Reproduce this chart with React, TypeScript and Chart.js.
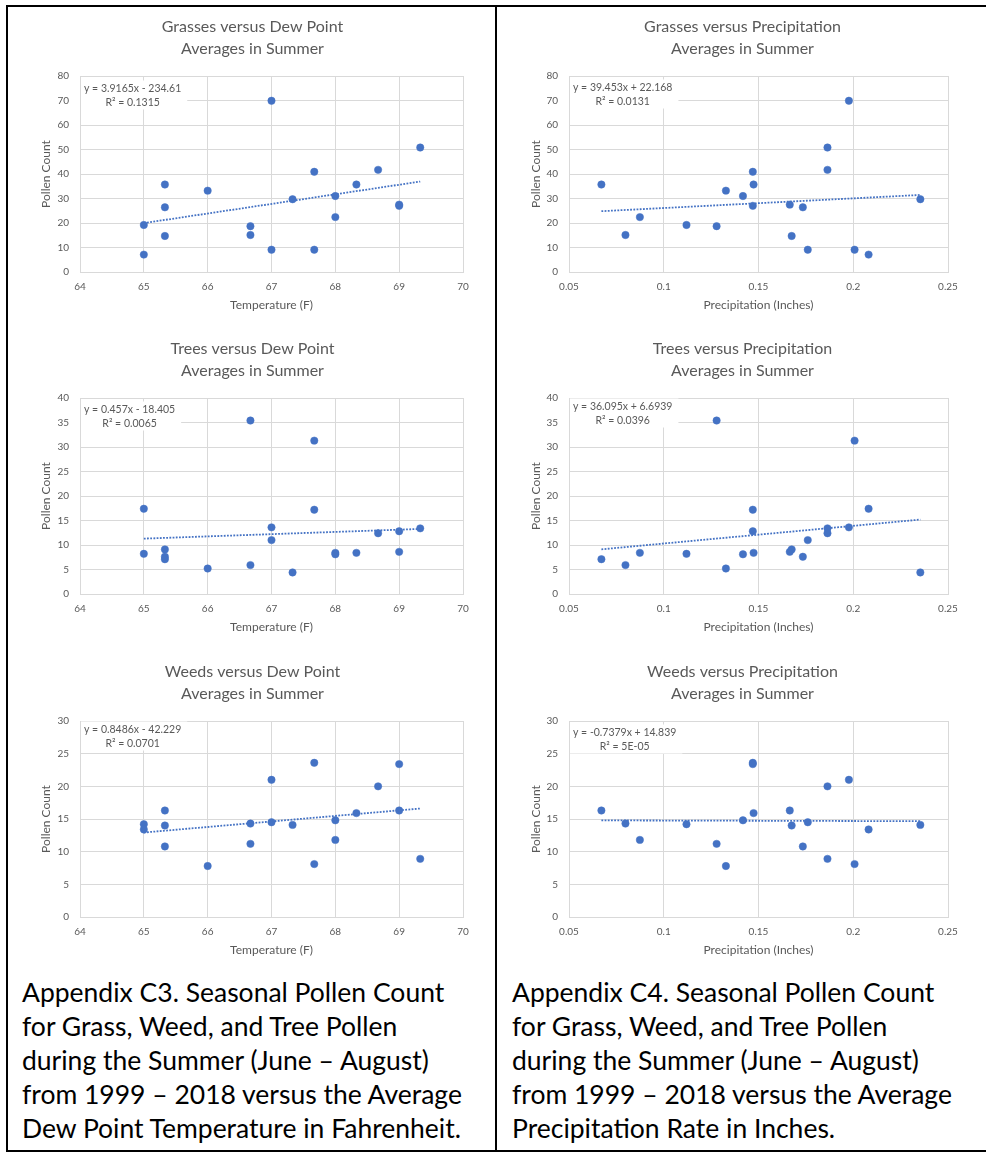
import React, { useEffect, useRef } from "react";
import { Chart, registerables } from "chart.js";

Chart.register(...registerables);

// Summer (June–August) averages, one value per year 1999–2018
const dewPointF = [65, 65, 65.33, 65.33, 65.33, 66, 66.67, 66.67, 67, 67, 67.33, 67.67, 67.67, 68, 68, 68.33, 68.67, 69, 69, 69.33];
const grassVsDew = [7.1, 19.2, 35.7, 26.4, 14.7, 33.2, 18.7, 15.1, 69.9, 9.1, 29.7, 40.9, 9.1, 31.0, 22.4, 35.7, 41.7, 27.0, 27.5, 50.8];
const treeVsDew = [17.4, 8.2, 9.1, 7.6, 7.1, 5.2, 35.4, 5.9, 13.6, 11.0, 4.4, 31.3, 17.2, 8.4, 8.1, 8.4, 12.4, 12.8, 8.6, 13.4];
const weedVsDew = [14.2, 13.4, 16.3, 14.0, 10.8, 7.8, 14.3, 11.2, 21.0, 14.5, 14.1, 23.6, 8.1, 14.8, 11.8, 15.9, 20.0, 23.4, 16.3, 8.9];

const precipIn = [0.0671, 0.0798, 0.0874, 0.112, 0.1279, 0.1328, 0.1418, 0.147, 0.147, 0.1474, 0.1665, 0.1675, 0.1734, 0.176, 0.1864, 0.1864, 0.1977, 0.2007, 0.2081, 0.2354];
const grassVsPrecip = [35.7, 15.1, 22.4, 19.2, 18.7, 33.2, 31.0, 40.9, 27.0, 35.7, 27.5, 14.7, 26.4, 9.1, 50.8, 41.7, 69.9, 9.1, 7.1, 29.7];
const treeVsPrecip = [7.1, 5.9, 8.4, 8.2, 35.4, 5.2, 8.1, 17.2, 12.8, 8.4, 8.6, 9.1, 7.6, 11.0, 13.4, 12.4, 13.6, 31.3, 17.4, 4.4];
const weedVsPrecip = [16.3, 14.3, 11.8, 14.2, 11.2, 7.8, 14.8, 23.6, 23.4, 15.9, 16.3, 14.0, 10.8, 14.5, 20.0, 8.9, 21.0, 8.1, 13.4, 14.1];

// Linear trendlines: [slope, intercept]
const grassDewFit = [3.9165, -234.61];
const treeDewFit = [0.457, -18.405];
const weedDewFit = [0.8486, -42.229];
const grassPrecipFit = [39.453, 22.168];
const treePrecipFit = [36.095, 6.6939];
const weedPrecipFit = [-0.7379, 14.839];

const grassDewLabel = ["y = 3.9165x - 234.61", "R² = 0.1315"];
const treeDewLabel = ["y = 0.457x - 18.405", "R² = 0.0065"];
const weedDewLabel = ["y = 0.8486x - 42.229", "R² = 0.0701"];
const grassPrecipLabel = ["y = 39.453x + 22.168", "R² = 0.0131"];
const treePrecipLabel = ["y = 36.095x + 6.6939", "R² = 0.0396"];
const weedPrecipLabel = ["y = -0.7379x + 14.839", "R² = 5E-05"];

// Axis ranges: [min, max, step]
const dewAxis = [64, 70, 1];
const precipAxis = [0.05, 0.25, 0.05];
const grassAxis = [0, 80, 10];
const treeAxis = [0, 40, 5];
const weedAxis = [0, 30, 5];

const dewTitle = "Temperature (F)";
const precipTitle = "Precipitation (Inches)";
const countTitle = "Pollen Count";

const captionC3 = [
  "Appendix C3. Seasonal Pollen Count",
  "for Grass, Weed, and Tree Pollen",
  "during the Summer (June – August)",
  "from 1999 – 2018 versus the Average",
  "Dew Point Temperature in Fahrenheit.",
];
const captionC4 = [
  "Appendix C4. Seasonal Pollen Count",
  "for Grass, Weed, and Tree Pollen",
  "during the Summer (June – August)",
  "from 1999 – 2018 versus the Average",
  "Precipitation Rate in Inches.",
];

const BLUE = "#4472C4";
const GRID = "#d9d9d9";
const TEXT = "#595959";
const FONT = "Lato";

type Panel = {
  title: string[];
  xs: number[];
  ys: number[];
  fit: number[];
  label: string[];
  xAxis: number[];
  yAxis: number[];
  xTitle: string;
  col: number;
  row: number;
  labelDy: number;
};

const panels: Panel[] = [
  { title: ["Grasses versus Dew Point", "Averages in Summer"], xs: dewPointF, ys: grassVsDew, fit: grassDewFit, label: grassDewLabel, xAxis: dewAxis, yAxis: grassAxis, xTitle: dewTitle, col: 0, row: 0, labelDy: 13 },
  { title: ["Grasses versus Precipitation", "Averages in Summer"], xs: precipIn, ys: grassVsPrecip, fit: grassPrecipFit, label: grassPrecipLabel, xAxis: precipAxis, yAxis: grassAxis, xTitle: precipTitle, col: 1, row: 0, labelDy: 12 },
  { title: ["Trees versus Dew Point", "Averages in Summer"], xs: dewPointF, ys: treeVsDew, fit: treeDewFit, label: treeDewLabel, xAxis: dewAxis, yAxis: treeAxis, xTitle: dewTitle, col: 0, row: 1, labelDy: 12 },
  { title: ["Trees versus Precipitation", "Averages in Summer"], xs: precipIn, ys: treeVsPrecip, fit: treePrecipFit, label: treePrecipLabel, xAxis: precipAxis, yAxis: treeAxis, xTitle: precipTitle, col: 1, row: 1, labelDy: 9 },
  { title: ["Weeds versus Dew Point", "Averages in Summer"], xs: dewPointF, ys: weedVsDew, fit: weedDewFit, label: weedDewLabel, xAxis: dewAxis, yAxis: weedAxis, xTitle: dewTitle, col: 0, row: 2, labelDy: 9 },
  { title: ["Weeds versus Precipitation", "Averages in Summer"], xs: precipIn, ys: weedVsPrecip, fit: weedPrecipFit, label: weedPrecipLabel, xAxis: precipAxis, yAxis: weedAxis, xTitle: precipTitle, col: 1, row: 2, labelDy: 12 },
];

// Column placement: canvas left edge, plot area edges, chart-title centre, y-title centre
const COLS = [
  { left: 26, plotLeft: 80, plotRight: 463, titleX: 252.5, yTitleX: 46 },
  { left: 516, plotLeft: 569, plotRight: 948, titleX: 742.5, yTitleX: 536 },
];
const ROW_TOPS = [8, 330, 653];
const CANVAS_H = 314;
const PAD_RIGHT = 8;
const AXIS_TITLE_SIZE = 12;

function ScatterPanel({ p }: { p: Panel }) {
  const ref = useRef<HTMLCanvasElement | null>(null);
  const col = COLS[p.col];
  // the chart title is centred between the y-axis' left edge and the end of the right spacer
  const titleRight = 2 * col.titleX - col.left;
  const spacer = titleRight - col.plotRight;
  const width = titleRight - col.left + PAD_RIGHT;

  useEffect(() => {
    if (!ref.current) return;
    const xMin = Math.min(...p.xs);
    const xMax = Math.max(...p.xs);
    const line = (x: number) => p.fit[0] * x + p.fit[1];
    const isPrecip = p.xAxis[2] < 1;
    const axisLh = AXIS_TITLE_SIZE * 1.2;

    const fitLabel = {
      id: "fitLabel",
      beforeDatasetsDraw(chart: any) {
        const { ctx, chartArea } = chart;
        ctx.save();
        ctx.font = `10.5px ${FONT}`;
        const w = Math.max(...p.label.map((l) => ctx.measureText(l).width));
        const y1 = chartArea.top + p.labelDy;
        ctx.fillStyle = "#ffffff";
        ctx.fillRect(chartArea.left + 1, y1 - 8.5, w + 9, 29);
        ctx.fillStyle = TEXT;
        ctx.textAlign = "center";
        ctx.textBaseline = "middle";
        const cx = chartArea.left + 4 + w / 2;
        p.label.forEach((t, i) => ctx.fillText(t, cx, y1 + i * 14));
        ctx.restore();
      },
    };

    const chart = new Chart(ref.current, {
      type: "scatter",
      data: {
        datasets: [
          {
            data: p.xs.map((x, i) => ({ x, y: p.ys[i] })),
            xAxisID: "x",
            yAxisID: "y",
            backgroundColor: BLUE,
            borderColor: BLUE,
            pointRadius: 3.7,
            pointBorderWidth: 0.5,
            order: 0,
          },
          {
            data: [
              { x: xMin, y: line(xMin) },
              { x: xMax, y: line(xMax) },
            ],
            xAxisID: "x",
            yAxisID: "y",
            showLine: true,
            borderColor: BLUE,
            borderWidth: 1.8,
            borderDash: [1.8, 1.4],
            pointRadius: 0,
            order: 1,
          },
        ],
      },
      options: {
        responsive: false,
        animation: false,
        events: [],
        layout: { padding: { left: 0, right: PAD_RIGHT, top: 0, bottom: 0 } },
        plugins: {
          legend: { display: false },
          tooltip: { enabled: false },
          title: {
            display: true,
            text: p.title,
            color: TEXT,
            font: { family: FONT, size: 16, weight: "normal", lineHeight: "22px" },
            padding: { top: 8, bottom: 16 },
          },
        },
        scales: {
          x: {
            type: "linear",
            min: p.xAxis[0],
            max: p.xAxis[1],
            afterFit: (s: any) => {
              s.height = 50;
            },
            ticks: {
              stepSize: p.xAxis[2],
              autoSkip: false,
              maxRotation: 0,
              padding: 9,
              color: TEXT,
              font: { family: FONT, size: 10, lineHeight: 1.2 },
              callback: (v: any) => (isPrecip ? String(Math.round(Number(v) * 100) / 100) : String(v)),
            },
            grid: { color: GRID, drawTicks: false, lineWidth: 1 },
            border: { color: GRID },
            title: {
              display: true,
              text: p.xTitle,
              color: TEXT,
              font: { family: FONT, size: AXIS_TITLE_SIZE, lineHeight: 1.2 },
              padding: { top: 0, bottom: 50 - 33 - axisLh / 2 },
            },
          },
          y: {
            type: "linear",
            position: "left",
            min: p.yAxis[0],
            max: p.yAxis[1],
            afterFit: (s: any) => {
              s.width = col.plotLeft - col.left;
            },
            ticks: {
              stepSize: p.yAxis[2],
              autoSkip: false,
              padding: 11,
              color: TEXT,
              font: { family: FONT, size: 10, lineHeight: 1.2 },
            },
            grid: { color: GRID, drawTicks: false, lineWidth: 1 },
            border: { color: GRID },
            title: {
              display: true,
              text: countTitle,
              color: TEXT,
              font: { family: FONT, size: AXIS_TITLE_SIZE, lineHeight: 1.2 },
              padding: { top: col.yTitleX - col.left - axisLh / 2, bottom: 0 },
            },
          },
          // empty right-hand spacer so the chart title sits where it should
          spacer: {
            type: "linear",
            axis: "y",
            position: "right",
            afterFit: (s: any) => {
              s.width = spacer;
            },
            ticks: { display: false },
            grid: { display: false, drawTicks: false },
            border: { display: false },
          },
        },
      },
      plugins: [fitLabel],
    } as any);
    return () => chart.destroy();
  }, [p]);

  return (
    <canvas
      ref={ref}
      width={width}
      height={CANVAS_H}
      style={{
        position: "absolute",
        left: col.left,
        top: ROW_TOPS[p.row],
        width,
        height: CANVAS_H,
      }}
    />
  );
}

function Caption({ lines, left }: { lines: string[]; left: number }) {
  return (
    <div
      style={{
        position: "absolute",
        left,
        top: 975,
        fontFamily: FONT,
        fontSize: 26.5,
        lineHeight: "34px",
        color: "#000",
        whiteSpace: "nowrap",
      }}
    >
      {lines.map((l, i) => (
        <div key={i}>{l}</div>
      ))}
    </div>
  );
}

export default function App() {
  return (
    <div
      style={{
        position: "absolute",
        left: 0,
        top: 0,
        width: 986,
        height: 1152,
        overflow: "hidden",
        background: "#fff",
      }}
    >
      {panels.map((p, i) => (
        <ScatterPanel key={i} p={p} />
      ))}
      <Caption lines={captionC3} left={22} />
      <Caption lines={captionC4} left={512} />
      {/* table borders */}
      <div style={{ position: "absolute", left: 6, top: 5, width: 1000, height: 2, background: "#000" }} />
      <div style={{ position: "absolute", left: 6, top: 5, width: 2, height: 1147, background: "#000" }} />
      <div style={{ position: "absolute", left: 495, top: 5, width: 2, height: 1147, background: "#000" }} />
      <div style={{ position: "absolute", left: 6, top: 1150, width: 1000, height: 2, background: "#000" }} />
    </div>
  );
}
